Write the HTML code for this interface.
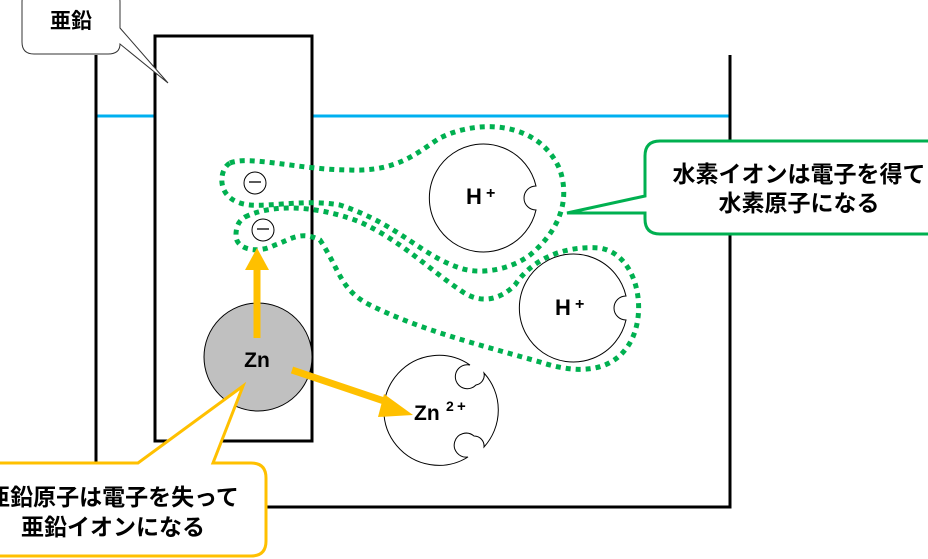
<!DOCTYPE html>
<html><head><meta charset="utf-8"><style>
html,body{margin:0;padding:0;background:#fff;}
svg{display:block}
text{font-family:"Liberation Sans","Noto Sans CJK JP",sans-serif;font-weight:bold;}
</style></head><body>
<svg width="928" height="559" viewBox="0 0 928 559" xmlns="http://www.w3.org/2000/svg">
<line x1="96" y1="116" x2="730" y2="116" stroke="#00b0f0" stroke-width="3"/>
<polyline points="96,55 96,507 730,507 730,55" fill="none" stroke="#000" stroke-width="3"/>
<rect x="155" y="36" width="157" height="405" fill="#fff" stroke="#000" stroke-width="3"/>
<path d="M34,-10 H108 Q120,-10 120,2 V28 L168,83 L120,44 Q120,54 108,54 H34 Q22,54 22,42 V2 Q22,-10 34,-10 Z" fill="#fff" stroke="#333" stroke-width="1"/>
<text x="71" y="28" font-size="21" text-anchor="middle">亜鉛</text>

<path d="M536,186 A54,54 0 1 0 536,210 A12,12 0 0 1 536,186 Z" fill="#fff" stroke="#000" stroke-width="1"/>
<text x="466" y="204" font-size="22">H</text><text x="486" y="198" font-size="16" font-weight="normal">+</text>
<path d="M626,296 A54,54 0 1 0 626,320 A12,12 0 0 1 626,296 Z" fill="#fff" stroke="#000" stroke-width="1"/>
<text x="555" y="315" font-size="22">H</text><text x="575" y="309" font-size="16" font-weight="normal">+</text>
<path d="M484,373 A55,55 0 0 1 484,447 A10,10 0 0 0 474,436 A12,12 0 1 0 468,457 A55,55 0 1 1 470,365 A12,12 0 1 0 476,385 A10,10 0 0 0 484,373 Z" fill="#fff" stroke="#000" stroke-width="1"/>
<text x="414" y="420" font-size="21">Zn</text><text x="446" y="411" font-size="14">2</text><text x="457" y="411" font-size="15" font-weight="normal">+</text>

<circle cx="255" cy="183" r="11" fill="#fff" stroke="#000" stroke-width="1"/>
<line x1="249" y1="182" x2="261" y2="182" stroke="#000" stroke-width="1.3"/>
<circle cx="263" cy="230" r="11" fill="#fff" stroke="#000" stroke-width="1"/>
<line x1="257" y1="229" x2="269" y2="229" stroke="#000" stroke-width="1.3"/>

<path d="M230,163 C250,155 300,170 350,170 C400,172 420,150 440,138 C480,118 540,122 560,170 C570,200 560,230 530,255 C510,270 480,275 460,268 C420,255 400,225 340,205 C300,198 260,210 240,203 C215,195 220,168 230,163 Z" fill="none" stroke="#00b050" stroke-width="5" stroke-dasharray="5 5"/>
<path d="M245,217 C280,200 330,210 360,222 C400,240 430,270 460,290 C480,305 500,300 515,285 C530,262 560,245 600,248 C640,255 650,320 625,350 C605,375 570,372 540,362 C480,345 420,330 370,305 C340,290 340,270 320,240 C300,230 290,240 275,245 C255,255 235,248 236,235 C236,225 240,220 245,217 Z" fill="none" stroke="#00b050" stroke-width="5" stroke-dasharray="5 5"/>

<circle cx="258" cy="357" r="54" fill="#c0c0c0" stroke="#000" stroke-width="1"/>
<text x="257" y="367" font-size="21" text-anchor="middle">Zn</text>
<line x1="257" y1="338" x2="257" y2="270" stroke="#ffc000" stroke-width="7"/>
<polygon points="245,270 269,270 257,248" fill="#ffc000"/>
<line x1="292" y1="370" x2="390" y2="403" stroke="#ffc000" stroke-width="7"/>
<polygon points="384,394 413,415 378,417" fill="#ffc000"/>

<path d="M-10,463 H138 L243,386 L213,463 H251 Q266,463 266,478 V541 Q266,556 251,556 H-10 Z" fill="#fff" stroke="#ffc000" stroke-width="3"/>
<text x="113" y="505" font-size="23" text-anchor="middle">亜鉛原子は電子を失って</text>
<text x="113" y="535" font-size="23" text-anchor="middle">亜鉛イオンになる</text>

<path d="M660,141 H940 V234 H660 Q645,234 645,219 V213 L567,213 L645,196 V156 Q645,141 660,141 Z" fill="#fff" stroke="#00b050" stroke-width="3"/>
<text x="799" y="182" font-size="23" text-anchor="middle">水素イオンは電子を得て</text>
<text x="799" y="211" font-size="23" text-anchor="middle">水素原子になる</text>
</svg>
</body></html>
